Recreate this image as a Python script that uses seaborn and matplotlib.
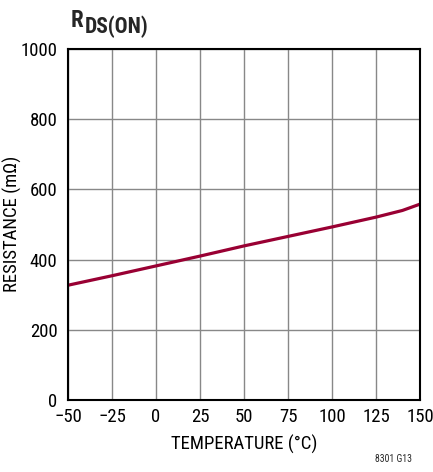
import matplotlib
matplotlib.use("Agg")
import matplotlib.pyplot as plt
import seaborn as sns
import pandas as pd
from matplotlib import font_manager

temperature = [-50, -25, 0, 25, 50, 75, 100, 125, 140, 150]
resistance = [327, 354, 382, 410, 439, 466, 493, 521, 540, 558]
x_ticks = [-50, -25, 0, 25, 50, 75, 100, 125, 150]
x_tick_labels = ["\u221250", "\u221225", "0", "25", "50", "75", "100", "125", "150"]
y_ticks = [0, 200, 400, 600, 800, 1000]

sns.set_theme(style="white")
fonts = font_manager.fontManager.ttflist
names = sorted({f.name for f in fonts})
pref = [n for n in ["Liberation Sans Narrow", "Roboto Condensed", "Open Sans Condensed"] if n in names]
cond = pref or [n for n in names if ("Narrow" in n or "Condensed" in n)]
fam = cond[0] if cond else "Liberation Sans"
narrow = bool(cond)
plt.rcParams["font.family"] = [fam, "DejaVu Sans"]

# bold font for the title
bold_fam = None
for n in cond:
    for f in fonts:
        if f.name == n and (f.weight == "bold" or f.weight == 700 or "Bold" in f.fname):
            bold_fam = n
            break
    if bold_fam:
        break
if bold_fam is None:
    for f in fonts:
        if ("Condensed" in f.name or "Narrow" in f.name) and ("Bold" in f.fname or f.weight in ("bold", 700)):
            bold_fam = f.name
            break
bold_file = None
if bold_fam:
    bold_file = font_manager.findfont(font_manager.FontProperties(family=bold_fam, weight="bold"))
    title_prop = font_manager.FontProperties(fname=bold_file) if ("Bold" in bold_file or "bold" in bold_file.lower()) else font_manager.FontProperties(family="Liberation Sans", weight="bold")
else:
    title_prop = font_manager.FontProperties(family="Liberation Sans", weight="bold")

df = pd.DataFrame({"temperature": temperature, "resistance": resistance})

fs = 13.5 if narrow else 11

fig = plt.figure(figsize=(4.33, 4.72), dpi=100)
ax = fig.add_axes([68/433, 72/472, 352/433, 351/472])
sns.lineplot(data=df, x="temperature", y="resistance", ax=ax, color="#990033", linewidth=2.3)

ax.set_xlim(-50, 150)
ax.set_ylim(0, 1000)
ax.set_xticks(x_ticks)
ax.set_xticklabels(x_tick_labels)
ax.set_yticks(y_ticks)
ax.grid(True, color="#888888", linewidth=1.0)
ax.set_axisbelow(True)
for s in ax.spines.values():
    s.set_color("black")
    s.set_linewidth(1.5)
ax.tick_params(axis="x", length=0, labelsize=fs, colors="black", pad=6)
ax.tick_params(axis="y", length=0, labelsize=fs, colors="black", pad=7.5)
ax.set_xlabel("TEMPERATURE (\u00b0C)", fontsize=fs, color="black")
ax.set_ylabel("RESISTANCE (m\u03a9)", fontsize=fs, color="black")
ax.xaxis.set_label_coords(0.5, -(450 - 400) / 351, transform=ax.transAxes)
ax.xaxis.label.set_va("baseline")
ax.yaxis.set_label_coords(-(68 - 12) / 352, 0.5 + (400 - 224 - 175.5) / 351, transform=ax.transAxes)
ax.yaxis.label.set_va("center")

t1 = fig.text(71/433, 1 - 27/472, "R", fontproperties=title_prop, ha="left", va="baseline")
t1.set_fontsize(16.5)
t2 = fig.text(85/433, 1 - 33/472, "DS(ON)", fontproperties=title_prop, ha="left", va="baseline")
t2.set_fontsize(15.5)
fig.text(412/433, 1 - 462/472, "8301 G13", fontsize=7, ha="right", va="baseline")

fig.savefig("out.png", dpi=100)
